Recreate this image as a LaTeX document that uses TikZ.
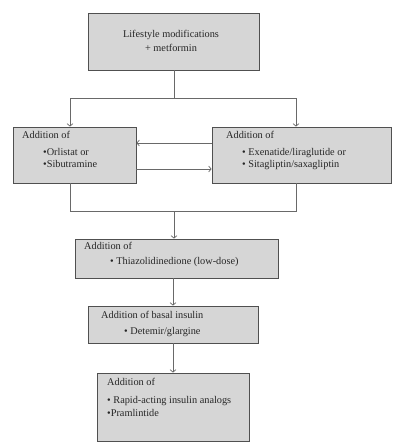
\documentclass[tikz,border=0pt]{standalone}
\usepackage{fontspec}
\setmainfont{Liberation Serif}
\usetikzlibrary{arrows.meta}
\definecolor{boxfill}{RGB}{214,214,214}
\definecolor{boxline}{RGB}{80,80,80}
\definecolor{conn}{RGB}{105,105,105}
\tikzset{
  box/.style={draw=boxline, fill=boxfill, line width=0.9pt, inner sep=0pt},
  txt/.style={anchor=mid west, inner sep=0pt, font=\fontsize{10.3}{12}\selectfont, text=black!85},
  ctxt/.style={anchor=center, inner sep=0pt, font=\fontsize{10.3}{12}\selectfont, text=black!85, align=center},
  conline/.style={draw=conn, line width=0.7pt},
  arr/.style={conline, -{Straight Barb[length=2.5pt,width=6pt]}}
}
\begin{document}
\begin{tikzpicture}[x=1pt,y=-1pt]
\useasboundingbox (0,0) rectangle (409,445);
% boxes
\node[box, minimum width=171pt, minimum height=57pt] (b1) at (173.5,41.5) {};
\node[box, minimum width=123pt, minimum height=56pt] (b2) at (74.5,155) {};
\node[box, minimum width=179pt, minimum height=56pt] (b3) at (301.5,155) {};
\node[box, minimum width=203pt, minimum height=39pt] (b4) at (176.5,258.5) {};
\node[box, minimum width=170pt, minimum height=37pt] (b5) at (173,324.5) {};
\node[box, minimum width=152pt, minimum height=68pt] (b6) at (173,407) {};
% texts
\node[ctxt] (t1a) at (171,34.5) {Lifestyle modifications};
\node[ctxt] (t1b) at (171,48) {+ metformin};
\node[txt] (t2a) at (22,136) {Addition of};
\node[txt] (t2b) at (43,153) {•Orlistat or};
\node[txt] (t2c) at (43,165) {•Sibutramine};
\node[txt] (t3a) at (226,136) {Addition of};
\node[txt] (t3b) at (242,153) {• Exenatide/liraglutide or};
\node[txt] (t3c) at (242,165) {• Sitagliptin/saxagliptin};
\node[txt] (t4a) at (84,247) {Addition of};
\node[txt] (t4b) at (110,262) {• Thiazolidinedione (low-dose)};
\node[txt] (t5a) at (101,316) {Addition of basal insulin};
\node[txt] (t5b) at (124,332) {• Detemir/glargine};
\node[txt] (t6a) at (107,383) {Addition of};
\node[txt] (t6b) at (107,401) {• Rapid-acting insulin analogs};
\node[txt] (t6c) at (107,414) {•Pramlintide};
% connectors
\coordinate (s1) at (174,98);
\coordinate (s2) at (174,211);
\draw[conline] ([xshift=0.5pt]b1.south) -- (s1);
\draw[arr] (s1) -| ([xshift=-4.5pt]b2.north);
\draw[arr] (s1) -| ([xshift=-5.5pt]b3.north);
\draw[arr] ([yshift=12pt]b3.west) -- ([yshift=12pt]b2.east);
\draw[arr] ([yshift=-14pt]b2.east) -- ([yshift=-14pt]b3.west);
\draw[conline] ([xshift=-4.5pt]b2.south) |- (s2);
\draw[conline] ([xshift=-5.5pt]b3.south) |- (s2);
\draw[arr] (s2) -- ([xshift=-2.5pt]b4.north);
\draw[arr] ([xshift=-3.5pt]b4.south) -- (b5.north);
\draw[arr] (b5.south) -- (b6.north);
\end{tikzpicture}
\end{document}
